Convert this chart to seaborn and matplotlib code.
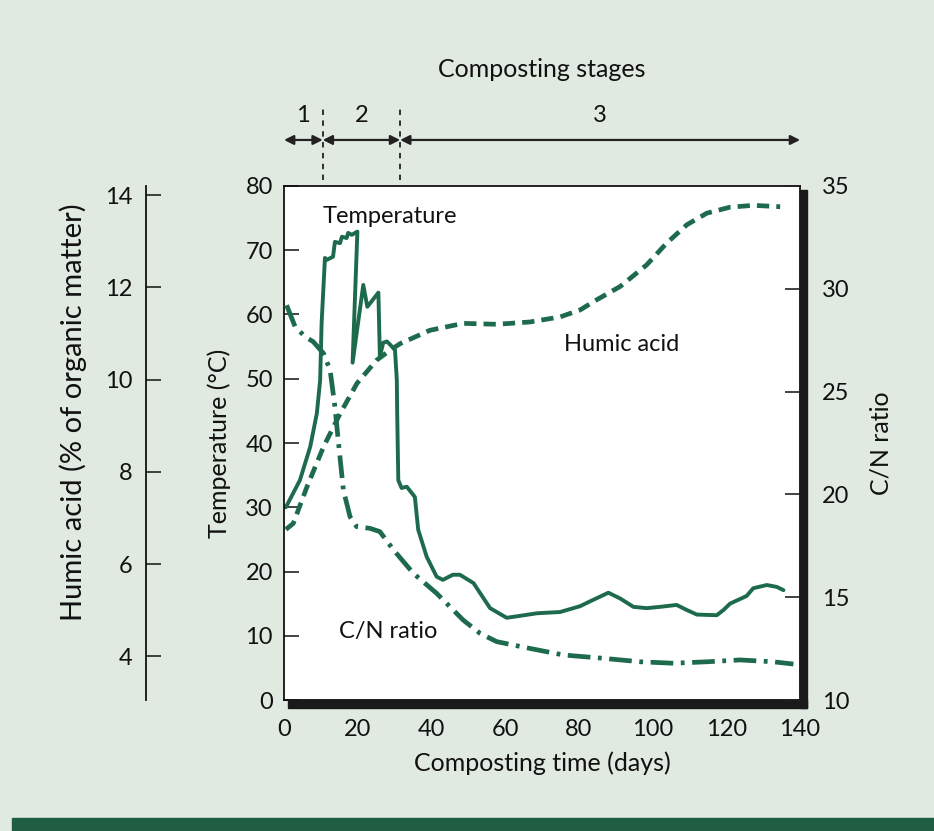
import matplotlib
matplotlib.use("Agg")
import matplotlib.pyplot as plt
from matplotlib.patches import Rectangle
import numpy as np
import pandas as pd
import seaborn as sns

# ---- data -------------------------------------------------------------
temp_days = [0.5, 4.3, 7.1, 8.9, 9.8, 10.2, 11.1, 11.6, 13.3, 13.8, 15.2, 15.7,
             17.0, 17.4, 18.4, 19.9, 18.6, 21.5, 22.6, 25.6, 26.0, 26.9, 27.9,
             28.8, 30.1, 30.6, 30.7, 31.0, 31.9, 33.3, 35.5, 36.4, 38.7, 41.4,
             43.1, 45.8, 47.7, 51.4, 55.9, 60.4, 64.0, 68.6, 74.9, 80.3, 83.9,
             88.0, 91.2, 94.8, 98.4, 102.0, 106.5, 109.3, 112.0, 117.4, 119.2,
             121.0, 125.5, 127.3, 131.0, 133.7, 135.5]
temp_vals = [30.0, 34.2, 39.4, 44.6, 49.8, 58.7, 68.8, 68.5, 69.0, 71.3, 71.1, 72.1,
             71.9, 72.7, 72.4, 72.9, 52.5, 64.6, 61.2, 63.4, 53.4, 55.6, 55.8,
             55.3, 54.5, 49.8, 44.7, 34.2, 33.0, 33.2, 31.6, 26.5, 22.3, 19.2,
             18.7, 19.5, 19.5, 18.2, 14.3, 12.8, 13.1, 13.5, 13.7, 14.6, 15.6,
             16.7, 15.8, 14.5, 14.3, 14.5, 14.8, 14.0, 13.3, 13.2, 14.0,
             15.0, 16.2, 17.4, 17.9, 17.6, 17.1]

humic_days = [0.5, 2.5, 6.2, 10.7, 15.2, 19.8, 25.1, 28.8, 31.5, 39.6, 48.6, 57.7,
              66.7, 74.9, 80.3, 84.8, 91.2, 98.4, 103.8, 109.3, 114.7, 121.0,
              127.3, 134.6]
humic_vals = [6.75, 6.88, 7.67, 8.54, 9.26, 9.92, 10.42, 10.64, 10.78, 11.07, 11.22,
              11.20, 11.25, 11.36, 11.51, 11.73, 12.02, 12.49, 12.96, 13.36, 13.61,
              13.74, 13.78, 13.75]

cn_days = [0.7, 3.0, 5.7, 7.9, 10.7, 12.5, 13.8, 14.7, 16.1, 17.9, 19.7, 23.3, 26.0,
           29.7, 35.1, 41.4, 48.6, 53.2, 57.7, 66.7, 75.8, 86.6, 96.6, 105.6,
           114.7, 123.7, 132.7, 138.2]
cn_vals = [29.2, 28.16, 27.67, 27.43, 26.86, 26.05, 24.27, 22.65, 20.21, 18.92, 18.43,
           18.35, 18.19, 17.30, 16.16, 15.19, 13.89, 13.24, 12.84, 12.51, 12.19,
           12.03, 11.86, 11.79, 11.86, 11.95, 11.86, 11.75]

temp_ticks = [0, 10, 20, 30, 40, 50, 60, 70, 80]
humic_ticks = [4, 6, 8, 10, 12, 14]
cn_ticks = [10, 15, 20, 25, 30, 35]
day_ticks = [0, 20, 40, 60, 80, 100, 120, 140]

stage_edges = [0, 10.5, 31.5, 140]
stage_labels = ["1", "2", "3"]

# ---- style ------------------------------------------------------------
sns.set_theme(style="white")
plt.rcParams["font.family"] = ["Lato", "DejaVu Sans"]

GREEN = "#1d6b4c"
PAGE = "#e1eae0"
INK = "#111111"
TICK_FS = 17
LABEL_FS = 18

fig = plt.figure(figsize=(9.34, 8.31), dpi=100, facecolor=PAGE)
ax = fig.add_axes([0.3041, 0.1576, 0.5525, 0.6186])
ax.set_facecolor("white")

temp_df = pd.DataFrame({"day": temp_days, "temp": temp_vals})
humic_df = pd.DataFrame({"day": humic_days, "humic": humic_vals})
cn_df = pd.DataFrame({"day": cn_days, "cn": cn_vals})

# temperature (left inner axis)
sns.lineplot(data=temp_df, x="day", y="temp", ax=ax, sort=False, color=GREEN,
             linewidth=2.8, estimator=None)
ax.set_xlim(0, 140)
ax.set_ylim(0, 80)
ax.set_xticks(day_ticks)
ax.set_yticks(temp_ticks)
ax.tick_params(axis="both", direction="in", length=11, width=1.2, color="#222222",
               labelsize=TICK_FS, labelcolor=INK, pad=8)
ax.tick_params(axis="x", pad=14)
ax.set_xlabel("Composting time (days)", fontsize=LABEL_FS, color=INK, labelpad=8)
ax.set_ylabel("Temperature (°C)", fontsize=LABEL_FS, color=INK, labelpad=10)
for s in ax.spines.values():
    s.set_color(INK)
    s.set_linewidth(1.3)

# C/N ratio (right axis)
ax_cn = ax.twinx()
sns.lineplot(data=cn_df, x="day", y="cn", ax=ax_cn, color=GREEN, linewidth=3.4,
             estimator=None)
ax_cn.lines[-1].set_dashes([4.8, 1.6, 0.8, 1.6])
ax_cn.set_ylim(10, 35)
ax_cn.set_yticks(cn_ticks)
ax_cn.tick_params(axis="y", direction="in", length=11, width=1.2, color="#222222",
                  labelsize=TICK_FS, labelcolor=INK, pad=16)
ax_cn.set_ylabel("C/N ratio", fontsize=LABEL_FS, color=INK, labelpad=14)
for s in ax_cn.spines.values():
    s.set_visible(False)

# humic acid (outer left axis)
ax_h = ax.twinx()
sns.lineplot(data=humic_df, x="day", y="humic", ax=ax_h, color=GREEN, linewidth=3.4,
             estimator=None)
ax_h.lines[-1].set_dashes([2.6, 1.5])
ax_h.set_ylim(3.05, 14.2)
ax_h.set_yticks(humic_ticks)
for name, s in ax_h.spines.items():
    s.set_visible(name == "left")
ax_h.spines["left"].set_position(("axes", -0.2674))
ax_h.spines["left"].set_color(INK)
ax_h.spines["left"].set_linewidth(1.3)
ax_h.yaxis.set_ticks_position("left")
ax_h.yaxis.set_label_position("left")
ax_h.tick_params(axis="y", direction="in", length=11, width=1.2, color="#222222",
                 labelsize=TICK_FS, labelcolor=INK, pad=10)
ax_h.set_ylabel("Humic acid (% of organic matter)", fontsize=21, color=INK)
ax_h.yaxis.set_label_coords(-0.382, 0.56)
ax_h.set_xlim(0, 140)
ax_h.set_xlabel("")

# drop shadow along right and bottom edges of the frame
sx, sy = 7 / 516, 8 / 514
ax.add_patch(Rectangle((1.0, -sy), sx, 1 - 4 / 514 + sy, transform=ax.transAxes,
                       color="#1a1a1a", clip_on=False, zorder=5))
ax.add_patch(Rectangle((4 / 516, -sy), 1 - 4 / 516 + sx, sy, transform=ax.transAxes,
                       color="#1a1a1a", clip_on=False, zorder=5))

# curve labels
ax.text(28.8, 75.2, "Temperature", fontsize=TICK_FS, ha="center", va="center",
        color=INK)
ax.text(91.7, 55.3, "Humic acid", fontsize=TICK_FS, ha="center", va="center",
        color=INK)
ax.text(28.2, 10.6, "C/N ratio", fontsize=TICK_FS, ha="center", va="center",
        color=INK)

# composting stages above the frame
tr = ax.get_xaxis_transform()
for edge in stage_edges[1:-1]:
    ax.plot([edge, edge], [1.012, 1.158], transform=tr, clip_on=False,
            color="#222222", linewidth=1.3, linestyle=(0, (3, 3)))
for lo, hi, lab in zip(stage_edges[:-1], stage_edges[1:], stage_labels):
    ax.annotate("", xy=(lo, 1.0895), xytext=(hi, 1.0895), xycoords=tr,
                textcoords=tr,
                arrowprops=dict(arrowstyle="<|-|>", color="#222222", lw=1.6,
                                mutation_scale=14, shrinkA=0, shrinkB=0))
    ax.text((lo + hi) / 2, 1.138, lab, transform=tr, ha="center", va="center",
            fontsize=TICK_FS, color=INK)
ax.text(70, 1.2257, "Composting stages", transform=tr, ha="center", va="center",
        fontsize=LABEL_FS, color=INK)

# page rule along the bottom
fig.add_artist(Rectangle((12 / 934, 0), 1, 13 / 831, transform=fig.transFigure,
                         color="#1f5e43"))

fig.savefig("out.png", dpi=100, facecolor=PAGE)
